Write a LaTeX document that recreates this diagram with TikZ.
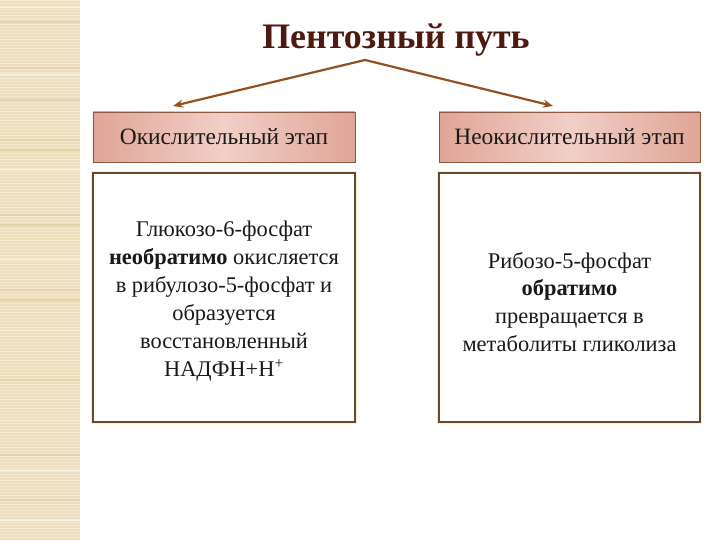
\documentclass[tikz,border=0pt]{standalone}
\usepackage{fontspec}
\setmainfont{Liberation Serif}
\usetikzlibrary{arrows.meta}
\definecolor{strip}{HTML}{EDDFBD}
\definecolor{stripl}{HTML}{F4EAD2}
\definecolor{stripd}{HTML}{E5D3AA}
\definecolor{titlec}{HTML}{4E1A10}
\definecolor{arrowc}{HTML}{94501E}
\definecolor{hdredge}{HTML}{E0A597}
\definecolor{hdrmid}{HTML}{F1CFC7}
\definecolor{hdrline}{HTML}{8A5A44}
\definecolor{bodyline}{HTML}{6B4726}
\definecolor{glow}{HTML}{FBEBD6}
\tikzset{
  hdr/.style={draw=hdrline, line width=0.8bp, left color=hdredge, right color=hdredge, middle color=hdrmid,
    minimum width=262bp, minimum height=50bp, inner sep=0pt,
    font=\fontsize{23.5}{26}\selectfont, text=black!90},
  bodybox/.style={draw=bodyline, line width=1.8bp, fill=white,
    minimum width=262bp, minimum height=249bp, inner sep=0pt},
  bodytext/.style={align=center, font=\fontsize{22.5}{28}\selectfont, text=black!90},
  conn/.style={draw=arrowc, line width=2.2bp, -{Stealth[length=10bp,width=8bp]}}
}
\begin{document}
\begin{tikzpicture}[x=1bp,y=-1bp]
\useasboundingbox (0,0) rectangle (720,540);
% left decorative strip
\fill[strip] (0,0) rectangle (80,540);
\foreach \i in {0,3,...,540} {\draw[stripl, line width=0.7bp] (0,\i) -- (80,\i);}
\foreach \i in {22,68,100,140,150,215,225,290,300,380,455,500} {\draw[stripd, line width=1.4bp] (0,\i) -- (80,\i);}
\foreach \i in {8,75,170,260,330,420,470,520} {\draw[stripl!60!white, line width=1bp] (0,\i) -- (80,\i);}
% title
\node[font=\bfseries\fontsize{36}{40}\selectfont, text=titlec] (title) at (396,40) {Пентозный путь};
\coordinate (apex) at (365,60);
% glow
\draw[glow, line width=4bp] (93,173) rectangle (355,422);
\draw[glow, line width=4bp] (439,173) rectangle (700,422);
% headers
\node[hdr] (h1) at (224,137) {Окислительный этап};
\node[hdr, minimum width=261bp] (h2) at (569.5,137) {Неокислительный этап};
% bodies
\node[bodybox] (b1) at (224,297.5) {};
\node[bodybox, minimum width=261bp] (b2) at (569.5,297.5) {};
\node[bodytext] (t1) at (224,301) {Глюкозо-6-фосфат\\\textbf{необратимо} окисляется\\в рибулозо-5-фосфат и\\образуется\\восстановленный\\НАДФН+Н\textsuperscript{+}};
\node[bodytext] (t2) at (569.5,302) {Рибозо-5-фосфат\\\textbf{обратимо}\\превращается в\\метаболиты гликолиза};
% arrows
\coordinate (tl) at (173,106);
\coordinate (tr) at (553,106);
\draw[conn] (apex) -- (tl);
\draw[conn] (apex) -- (tr);
\end{tikzpicture}
\end{document}
